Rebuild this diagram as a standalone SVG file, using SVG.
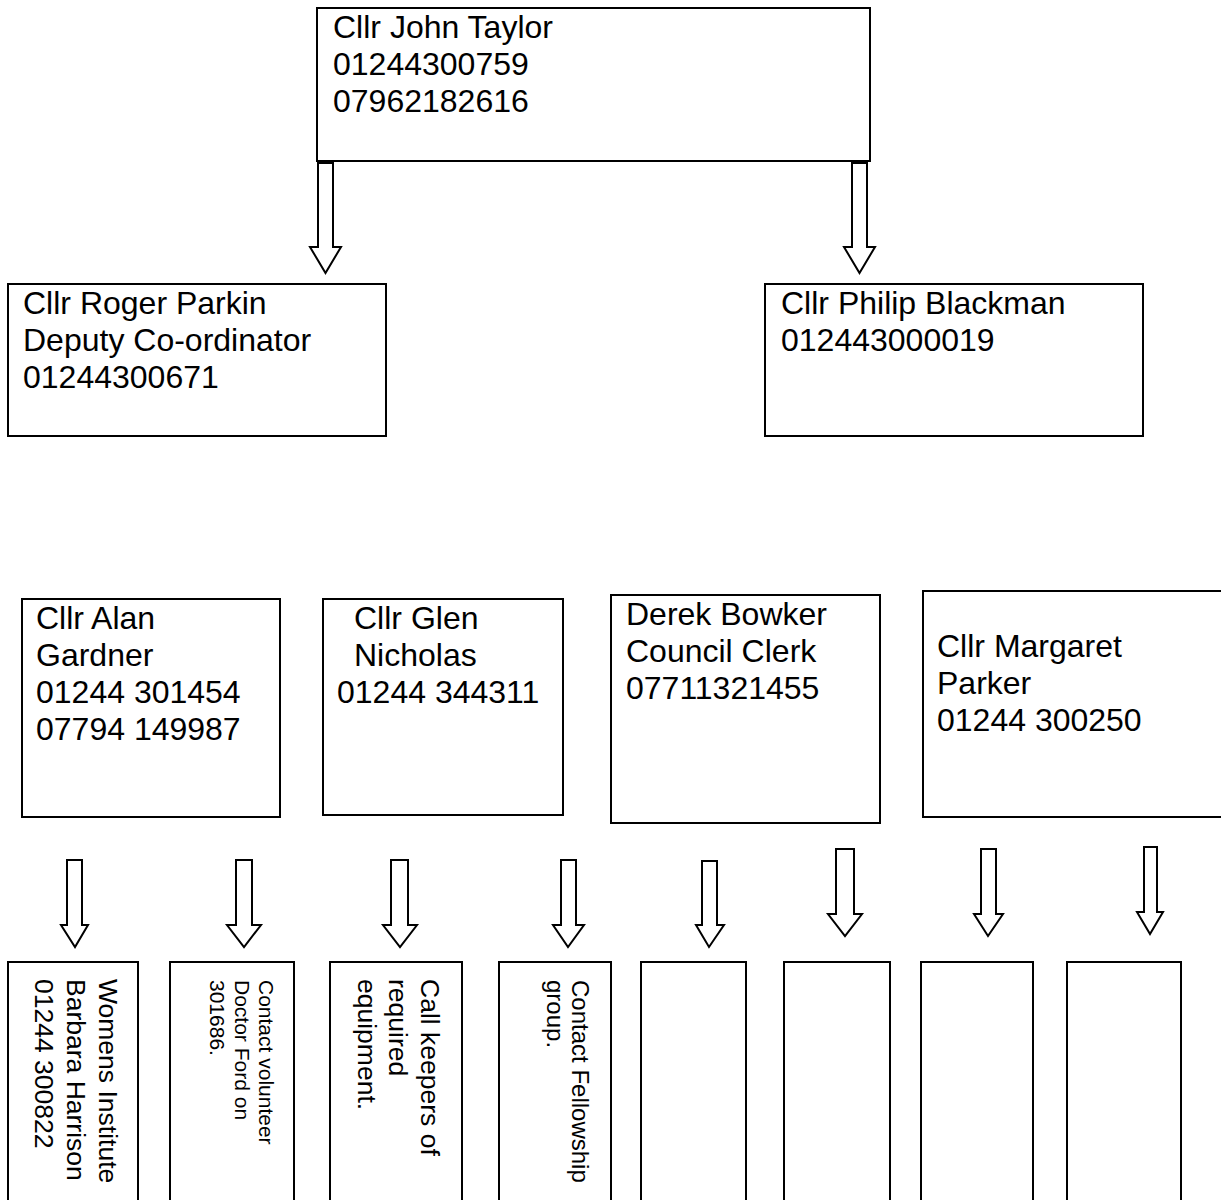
<svg xmlns="http://www.w3.org/2000/svg" width="1221" height="1200" viewBox="0 0 1221 1200">
<style>
  .box { fill: #ffffff; stroke: #000000; stroke-width: 2; }
  .arrow { fill: #ffffff; stroke: #000000; stroke-width: 2; stroke-linejoin: miter; }
  .t { font-family: "Liberation Sans", Arial, sans-serif; font-size: 32px; fill: #000000; }
  .r27 { font-family: "Liberation Sans", Arial, sans-serif; font-size: 26.5px; fill: #000000; }
  .r21 { font-family: "Liberation Sans", Arial, sans-serif; font-size: 21px; fill: #000000; }
  .r24 { font-family: "Liberation Sans", Arial, sans-serif; font-size: 24px; fill: #000000; }
</style>
<rect x="0" y="0" width="1221" height="1200" fill="#ffffff"/>

<g id="connectors">
  <path class="arrow" d="M318 163 H333 V247 H341 L325.5 273 L310 247 H318 Z"/>
  <path class="arrow" d="M852 163 H867 V247 H875 L859.5 273 L844 247 H852 Z"/>
  <path class="arrow" d="M67 860 H82 V925 H88 L75 947 L61 925 H67 Z"/>
  <path class="arrow" d="M236 860 H252 V925 H261 L244 947 L227 925 H236 Z"/>
  <path class="arrow" d="M391 860 H408 V925 H417 L400 947 L383 925 H391 Z"/>
  <path class="arrow" d="M561 860 H576 V925 H584 L568 947 L553 925 H561 Z"/>
  <path class="arrow" d="M702 861 H717 V925 H724 L709 947 L696 925 H702 Z"/>
  <path class="arrow" d="M836 849 H854 V914 H862 L845 936 L828 914 H836 Z"/>
  <path class="arrow" d="M981 849 H996 V914 H1003 L988 936 L974 914 H981 Z"/>
  <path class="arrow" d="M1144 847 H1157 V912 H1163 L1150 934 L1137 912 H1144 Z"/>
</g>

<g id="node-john-taylor">
  <rect class="box" x="317" y="8" width="553" height="153"/>
  <text class="t" x="333" y="38">Cllr John Taylor</text>
  <text class="t" x="333" y="75">01244300759</text>
  <text class="t" x="333" y="112">07962182616</text>
</g>

<g id="node-roger-parkin">
  <rect class="box" x="8" y="284" width="378" height="152"/>
  <text class="t" x="23" y="314">Cllr Roger Parkin</text>
  <text class="t" x="23" y="351">Deputy Co-ordinator</text>
  <text class="t" x="23" y="388">01244300671</text>
</g>

<g id="node-philip-blackman">
  <rect class="box" x="765" y="284" width="378" height="152"/>
  <text class="t" x="781" y="314">Cllr Philip Blackman</text>
  <text class="t" x="781" y="351">012443000019</text>
</g>

<g id="node-alan-gardner">
  <rect class="box" x="22" y="599" width="258" height="218"/>
  <text class="t" x="36" y="629">Cllr Alan</text>
  <text class="t" x="36" y="666">Gardner</text>
  <text class="t" x="36" y="703">01244 301454</text>
  <text class="t" x="36" y="740">07794 149987</text>
</g>

<g id="node-glen-nicholas">
  <rect class="box" x="323" y="599" width="240" height="216"/>
  <text class="t" x="354" y="629">Cllr Glen</text>
  <text class="t" x="354" y="666">Nicholas</text>
  <text class="t" x="337" y="703">01244 344311</text>
</g>

<g id="node-derek-bowker">
  <rect class="box" x="611" y="595" width="269" height="228"/>
  <text class="t" x="626" y="625">Derek Bowker</text>
  <text class="t" x="626" y="662">Council Clerk</text>
  <text class="t" x="626" y="699">07711321455</text>
</g>

<g id="node-margaret-parker">
  <rect class="box" x="923" y="591" width="310" height="226"/>
  <text class="t" x="937" y="657">Cllr Margaret</text>
  <text class="t" x="937" y="694">Parker</text>
  <text class="t" x="937" y="731">01244 300250</text>
</g>

<g id="node-womens-institute">
  <rect class="box" x="8" y="962" width="130" height="260"/>
  <text class="r27" transform="translate(99 979) rotate(90)">Womens Institute</text>
  <text class="r27" transform="translate(67 979) rotate(90)">Barbara Harrison</text>
  <text class="r27" transform="translate(35 979) rotate(90)">01244 300822</text>
</g>

<g id="node-doctor-ford">
  <rect class="box" x="170" y="962" width="124" height="260"/>
  <text class="r21" transform="translate(259 980) rotate(90)">Contact volunteer</text>
  <text class="r21" transform="translate(235 980) rotate(90)">Doctor Ford on</text>
  <text class="r21" transform="translate(210 980) rotate(90)">301686.</text>
</g>

<g id="node-equipment">
  <rect class="box" x="330" y="962" width="132" height="260"/>
  <text class="r27" transform="translate(421 979) rotate(90)">Call keepers of</text>
  <text class="r27" transform="translate(389 979) rotate(90)">required</text>
  <text class="r27" transform="translate(358 979) rotate(90)">equipment.</text>
</g>

<g id="node-fellowship">
  <rect class="box" x="499" y="962" width="112" height="260"/>
  <text class="r24" transform="translate(572 980) rotate(90)">Contact Fellowship</text>
  <text class="r24" transform="translate(547 980) rotate(90)">group.</text>
</g>

<g id="node-empty-5"><rect class="box" x="641" y="962" width="105" height="260"/></g>
<g id="node-empty-6"><rect class="box" x="784" y="962" width="106" height="260"/></g>
<g id="node-empty-7"><rect class="box" x="921" y="962" width="112" height="260"/></g>
<g id="node-empty-8"><rect class="box" x="1067" y="962" width="114" height="260"/></g>
</svg>
